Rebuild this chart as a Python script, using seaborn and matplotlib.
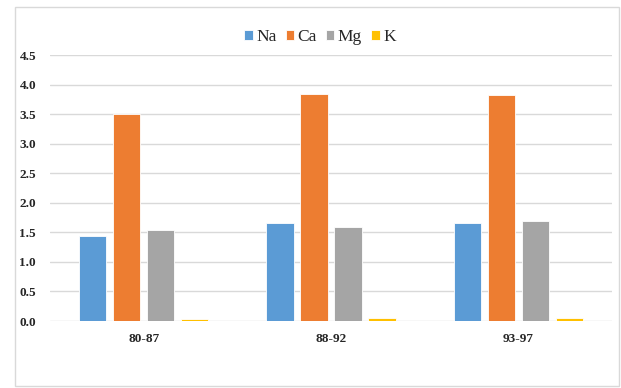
import pandas as pd
import numpy as np
import matplotlib
matplotlib.use('Agg')
import matplotlib.pyplot as plt
import seaborn as sns
from matplotlib.patches import Rectangle

# Data
periods = ['80-87', '88-92', '93-97']
ions = ['Na', 'Ca', 'Mg', 'K']
na_vals = [1.43, 1.66, 1.66]
ca_vals = [3.51, 3.84, 3.82]
mg_vals = [1.54, 1.585, 1.69]
k_vals = [0.03, 0.05, 0.05]
colors = ['#5B9BD5', '#ED7D31', '#A5A5A5', '#FFC000']
y_ticks = [0.0, 0.5, 1.0, 1.5, 2.0, 2.5, 3.0, 3.5, 4.0, 4.5]

rows = []
for ion, vals in zip(ions, [na_vals, ca_vals, mg_vals, k_vals]):
    for p, v in zip(periods, vals):
        rows.append({'period': p, 'ion': ion, 'value': v})
df = pd.DataFrame(rows)

sns.set_style('white')
plt.rcParams['font.family'] = ['Liberation Serif', 'DejaVu Serif']

fig = plt.figure(figsize=(6.21, 3.88), dpi=100)
W, H = 621, 388
ax = fig.add_axes([50 / W, 1 - 321 / H, 562 / W, 266 / H])

sns.barplot(data=df, x='period', y='value', hue='ion', order=periods,
            hue_order=ions, palette=colors, saturation=1, width=0.727, gap=0.2,
            edgecolor='white', linewidth=0.6, ax=ax, zorder=3)

ax.set_ylim(0, 4.5)
ax.set_xlim(-0.5, 2.5)
ax.set_yticks(y_ticks)
ax.set_yticklabels([f'{t:.1f}' for t in y_ticks], fontsize=9.5, fontweight='bold')
ax.set_xticks(range(len(periods)))
ax.set_xticklabels(periods, fontsize=9.5, fontweight='bold')
ax.tick_params(axis='both', length=0, colors='#262626')
ax.tick_params(axis='x', pad=9)
ax.tick_params(axis='y', pad=10)
ax.grid(axis='y', color='#D9D9D9', linewidth=1, zorder=0)
ax.set_axisbelow(True)
for s in ax.spines.values():
    s.set_visible(False)
ax.set_xlabel('')
ax.set_ylabel('')

handles, labels = ax.get_legend_handles_labels()
ax.legend_.remove()
leg = fig.legend(handles, labels, loc='center', bbox_to_anchor=(320 / W, 1 - 37 / H),
                 ncol=4, frameon=False, fontsize=12.5, handlelength=0.5, handleheight=0.5,
                 handletextpad=0.2, columnspacing=0.5)
for t in leg.get_texts():
    t.set_color('#262626')

# outer chart frame
fig.patches.append(Rectangle((15 / W, 1 - 386 / H), 604 / W, 379 / H,
                             transform=fig.transFigure, fill=False,
                             edgecolor='#D9D9D9', linewidth=1))

fig.savefig('out.png', dpi=100)
